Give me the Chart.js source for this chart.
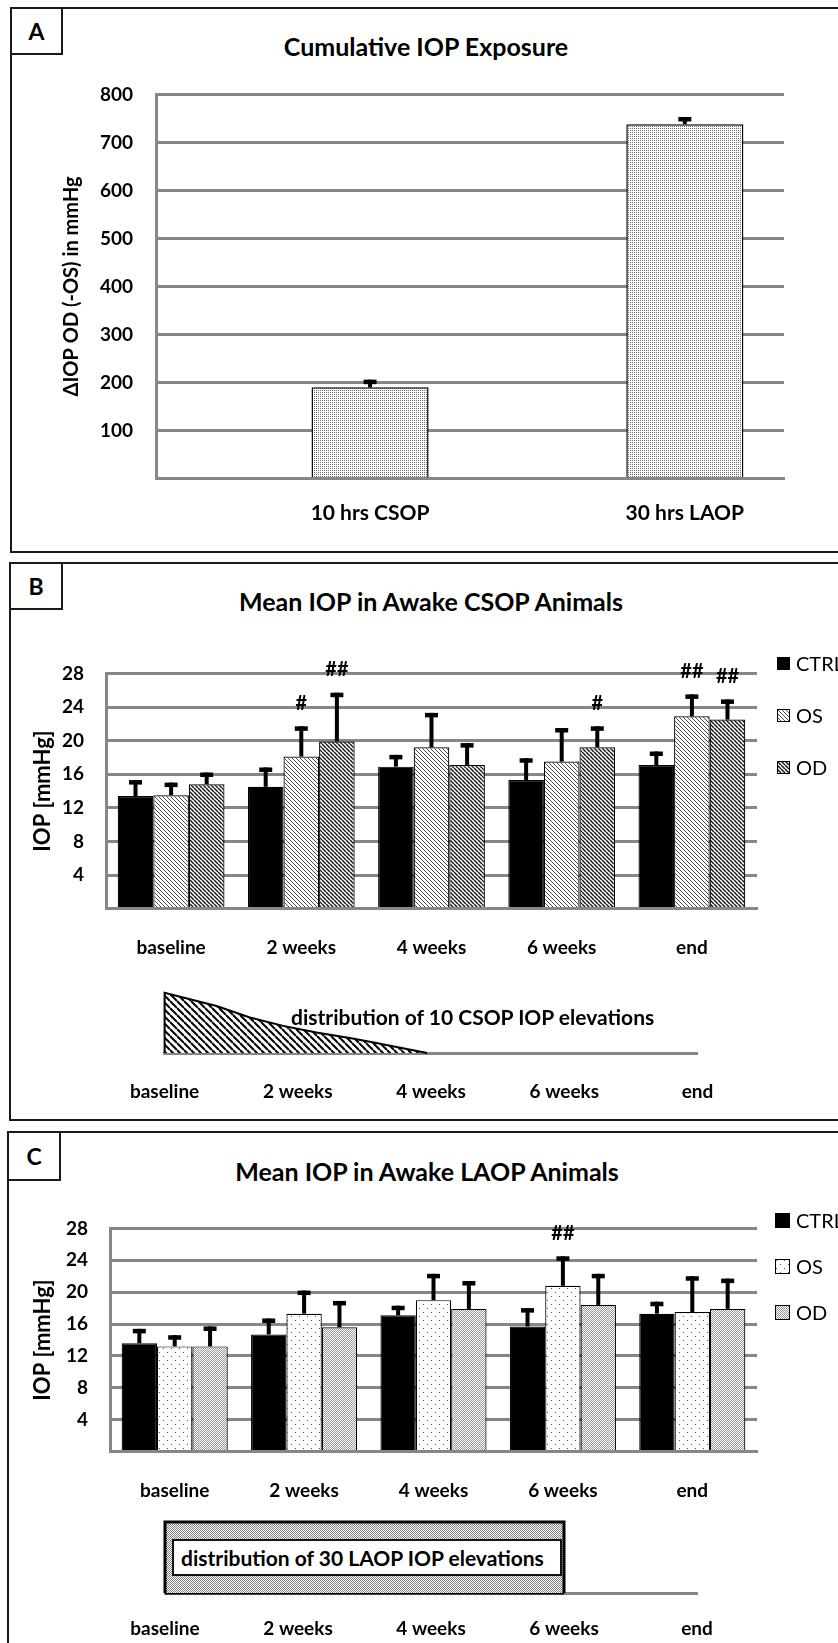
<!DOCTYPE html>
<html>
<head>
<meta charset="utf-8">
<title>IOP exposure and mean IOP</title>
<script src="https://cdn.jsdelivr.net/npm/chart.js@4.4.1/dist/chart.umd.min.js"></script>
<style>
	html, body { margin: 0; padding: 0; background: #fff; }
	body { position: relative; width: 838px; height: 1643px; overflow: hidden; font-family: Lato, 'Noto Sans', sans-serif; color: #000; }
	.panel { position: absolute; box-sizing: border-box; border: 2px solid #1a1a1a; width: 900px; }
	.tag { position: absolute; box-sizing: border-box; border: 2px solid #1a1a1a; background: #fff;
		font-weight: bold; font-size: 23px; display: flex; align-items: center; justify-content: center; }
	.title { position: absolute; transform: translate(-50%, -50%); white-space: nowrap; font-weight: bold; font-size: 25px; }
	.note { position: absolute; transform: translateY(-50%); white-space: nowrap; font-weight: bold; font-size: 21px; }
	.textbox { position: absolute; box-sizing: border-box; border: 2px solid #111; background: #fff; z-index: 2;
		font-weight: bold; font-size: 21px; display: flex; align-items: center; padding-left: 7px; white-space: nowrap; }
	canvas.chart { position: absolute; }
	.legend { position: absolute; font-size: 20px; }
	.legend .item { display: flex; align-items: center; }
	.legend canvas { margin-right: 6px; }
</style>
</head>
<body>

<div class="panel" style="left:10px; top:7px; height:546px;"></div>
<div class="tag" style="left:10px; top:7px; width:53px; height:48px;">A</div>
<div class="title" style="left:426px; top:46px;">Cumulative IOP Exposure</div>
<canvas id="chartA" class="chart" width="800" height="470" style="left:20px; top:60px;"></canvas>

<div class="panel" style="left:9px; top:562px; height:559px;"></div>
<div class="tag" style="left:9px; top:562px; width:54px; height:48px;">B</div>
<div class="title" style="left:431px; top:601px;">Mean IOP in Awake CSOP Animals</div>
<canvas id="chartB" class="chart" width="800" height="330" style="left:10px; top:640px;"></canvas>
<div id="legendB" class="legend" style="left:777px; top:637px;"></div>
<canvas id="timelineB" class="chart" width="700" height="125" style="left:100px; top:980px;"></canvas>
<div class="note" style="left:291px; top:1016px;">distribution of 10 CSOP IOP elevations</div>

<div class="panel" style="left:7px; top:1131px; height:600px;"></div>
<div class="tag" style="left:7px; top:1131px; width:54px; height:50px;">C</div>
<div class="title" style="left:427px; top:1171px;">Mean IOP in Awake LAOP Animals</div>
<canvas id="chartC" class="chart" width="800" height="320" style="left:10px; top:1195px;"></canvas>
<div id="legendC" class="legend" style="left:775px; top:1197px;"></div>
<canvas id="timelineC" class="chart" width="700" height="133" style="left:100px; top:1510px;"></canvas>
<div class="textbox" style="left:172px; top:1539px; width:390px; height:37px;">distribution of 30 LAOP IOP elevations</div>

<script>
	'use strict';

	// Panel A: cumulative exposure.
	const exposureGroups = ['10 hrs CSOP', '30 hrs LAOP'];
	const exposureMean = [190, 738];
	const exposureErr = [16, 15];

	// Panels B and C: mean IOP per time point.
	const timepoints = ['baseline', '2 weeks', '4 weeks', '6 weeks', 'end'];
	const seriesNames = ['CTRL', 'OS', 'OD'];

	const csopCtrl = [13.4, 14.5, 16.9, 15.3, 17.1];
	const csopOs = [13.5, 18.1, 19.2, 17.5, 22.9];
	const csopOd = [14.8, 19.9, 17.1, 19.2, 22.5];
	const csopCtrlErr = [1.9, 2.3, 1.4, 2.6, 1.6];
	const csopOsErr = [1.5, 3.6, 4.1, 4.0, 2.6];
	const csopOdErr = [1.4, 5.8, 2.6, 2.5, 2.4];
	const csopOsMarks = ['', '#', '', '', '##'];
	const csopOdMarks = ['', '##', '', '#', '##'];

	const laopCtrl = [13.6, 14.7, 17.1, 15.7, 17.3];
	const laopOs = [13.2, 17.3, 19.0, 20.8, 17.5];
	const laopOd = [13.2, 15.6, 17.9, 18.4, 17.9];
	const laopCtrlErr = [1.8, 2.0, 1.2, 2.3, 1.5];
	const laopOsErr = [1.4, 2.9, 3.3, 3.7, 4.5];
	const laopOdErr = [2.5, 3.3, 3.5, 3.9, 3.8];
	const laopOsMarks = ['', '', '', '##', ''];

	// Distribution of the elevations over the time points (x = time point index).
	const csopDistX = [0, 0, 0.39, 0.64, 0.89, 1.14, 1.39, 1.57, 1.97];
	const csopDistY = [0, 10, 7.8, 5.9, 4.5, 3.4, 2.5, 1.75, 0];
	const laopDistX = [0, 0, 3, 3];
	const laopDistY = [0, 10, 10, 0];

	const gridGray = '#878787';
	const tickFont = { size: 19, weight: 'bold' };

	Chart.defaults.font.family = 'Lato, "Noto Sans", sans-serif';
	Chart.defaults.color = '#000';
	Chart.defaults.devicePixelRatio = 1;

	/**
	 * Build a repeating fill pattern from a small tile.
	 */
	function makePattern(size, draw) {
		const tile = document.createElement('canvas');
		tile.width = size;
		tile.height = size;
		const g = tile.getContext('2d');
		g.fillStyle = '#fff';
		g.fillRect(0, 0, size, size);
		draw(g, size);
		return g.createPattern(tile, 'repeat');
	}

	function stripes(size, width, color) {
		return makePattern(size, function(g, s) {
			g.strokeStyle = color;
			g.lineWidth = width;
			for (let k = -1; k <= 1; k++) {
				g.beginPath();
				g.moveTo(0, k * s);
				g.lineTo(s, s + k * s);
				g.stroke();
			}
		});
	}

	function dots(size, color, points) {
		return makePattern(size, function(g) {
			g.fillStyle = color;
			points.forEach(function(p) { g.fillRect(p[0], p[1], 1, 1); });
		});
	}

	const stippleA = dots(2, '#6e6e6e', [[0, 0]]);
	const stripeLight = stripes(4, 0.9, '#3a3a3a');
	const stripeDark = stripes(4, 1.5, '#1a1a1a');
	const hatch = stripes(7, 2, '#000');
	const dotsSparse = dots(8, '#555', [[1, 1], [5, 5]]);
	const dotsDense = dots(2, '#999', [[0, 0], [1, 1]]);
	const stippleBox = dots(2, '#808080', [[0, 0], [1, 1]]);

	/**
	 * Error bars (upper half) and significance marks.
	 */
	const errorBars = {
		id: 'errorBars',
		afterDatasetsDraw(chart) {
			const ctx = chart.ctx;
			const yScale = chart.scales.y;
			chart.data.datasets.forEach(function(ds, i) {
				if (!ds.errors) return;
				const meta = chart.getDatasetMeta(i);
				meta.data.forEach(function(bar, j) {
					const value = meta.controller.getParsed(j).y;
					const top = yScale.getPixelForValue(value + ds.errors[j]);
					ctx.save();
					ctx.fillStyle = '#000';
					ctx.fillRect(bar.x - 2, top, 4, bar.y - top);
					ctx.fillRect(bar.x - 6.5, top, 13, 4.5);
					if (ds.marks && ds.marks[j]) {
						ctx.font = 'bold 20px Lato, "Noto Sans", sans-serif';
						ctx.textAlign = 'center';
						ctx.textBaseline = 'middle';
						ctx.fillText(ds.marks[j], bar.x, top - 23);
					}
					ctx.restore();
				});
			});
		}
	};

	// Cumulative IOP exposure.
	new Chart(document.getElementById('chartA'), {
		type: 'bar',
		data: {
			datasets: [{
				label: 'Cumulative IOP',
				data: exposureGroups.map(function(g, i) { return { x: i + 1, y: exposureMean[i] }; }),
				errors: exposureErr,
				backgroundColor: stippleA,
				borderColor: '#000',
				borderWidth: 1.5,
				categoryPercentage: 1,
				barPercentage: 0.372
			}]
		},
		options: {
			responsive: false,
			animation: false,
			layout: { padding: { top: 27, right: 36 } },
			plugins: { legend: { display: false }, tooltip: { enabled: false } },
			scales: {
				x: {
					type: 'linear',
					offset: false,
					min: 0.32,
					max: 2.315,
					grid: { display: false },
					border: { color: gridGray, width: 3 },
					afterBuildTicks: function(scale) {
						scale.ticks = exposureGroups.map(function(g, i) { return { value: i + 1 }; });
					},
					ticks: {
						callback: function(v) { return exposureGroups[v - 1]; },
						font: { size: 21, weight: 'bold' },
						padding: 14,
						maxRotation: 0
					},
					afterFit: function(scale) { scale.height = 51.4; }
				},
				y: {
					min: 0,
					max: 800,
					ticks: {
						stepSize: 100,
						callback: function(v) { return v === 0 ? '' : v; },
						font: tickFont,
						padding: 23
					},
					grid: { color: gridGray, lineWidth: 3, drawTicks: false },
					border: { color: gridGray, width: 3 },
					title: {
						display: true,
						text: '\u0394IOP OD (-OS) in mmHg',
						font: { size: 20, weight: 'bold' },
						padding: { top: 40, bottom: 0 }
					},
					afterFit: function(scale) { scale.width = 136; }
				}
			}
		},
		plugins: [errorBars]
	});

	/**
	 * Grouped IOP bar chart with error bars.
	 */
	function iopChart(id, series, box) {
		return new Chart(document.getElementById(id), {
			type: 'bar',
			data: {
				labels: timepoints,
				datasets: series.map(function(s, i) {
					return {
						label: seriesNames[i],
						data: s.values,
						errors: s.errors,
						marks: s.marks,
						backgroundColor: s.fill,
						borderColor: '#000',
						borderWidth: 1.2,
						categoryPercentage: 0.82,
						barPercentage: 1
					};
				})
			},
			options: {
				responsive: false,
				animation: false,
				layout: { padding: { top: box.top, right: box.right } },
				plugins: { legend: { display: false }, tooltip: { enabled: false } },
				scales: {
					x: {
						grid: { display: false },
						border: { color: gridGray, width: 3 },
						ticks: { font: tickFont, padding: 20, maxRotation: 0 },
						afterFit: function(scale) { scale.height = box.bottom; }
					},
					y: {
						min: 0,
						max: 28,
						ticks: {
							stepSize: 4,
							callback: function(v) { return v === 0 ? '' : v; },
							font: tickFont,
							padding: 22
						},
						grid: { color: gridGray, lineWidth: 3, drawTicks: false },
						border: { color: gridGray, width: 3 },
						title: {
							display: true,
							text: 'IOP [mmHg]',
							font: { size: 22, weight: 'bold' },
							padding: { top: 20, bottom: 0 }
						},
						afterFit: function(scale) { scale.width = box.left; }
					}
				}
			},
			plugins: [errorBars]
		});
	}

	/**
	 * Legend next to the chart, built from its datasets.
	 */
	function buildLegend(id, chart, rowHeight, swatch) {
		const holder = document.getElementById(id);
		chart.data.datasets.forEach(function(ds) {
			const item = document.createElement('div');
			item.className = 'item';
			item.style.height = rowHeight + 'px';
			const c = document.createElement('canvas');
			c.width = swatch;
			c.height = swatch;
			const g = c.getContext('2d');
			g.fillStyle = ds.backgroundColor;
			g.fillRect(0, 0, swatch, swatch);
			g.strokeStyle = '#000';
			g.lineWidth = 1;
			g.strokeRect(0.5, 0.5, swatch - 1, swatch - 1);
			const t = document.createElement('span');
			t.textContent = ds.label;
			item.appendChild(c);
			item.appendChild(t);
			holder.appendChild(item);
		});
	}

	/**
	 * Time line showing when the IOP elevations took place.
	 * With closeBase the shape also gets a black bottom edge.
	 */
	function timeline(id, xs, ys, fill, lineWidth, closeBase, box) {
		const datasets = [{
			data: xs.map(function(x, i) { return { x: x, y: ys[i] }; }),
			fill: 'origin',
			backgroundColor: fill,
			borderColor: '#000',
			borderWidth: lineWidth,
			pointRadius: 0,
			tension: 0,
			clip: false
		}];
		if (closeBase) {
			datasets.push({
				data: [{ x: Math.min.apply(null, xs), y: 0 }, { x: Math.max.apply(null, xs), y: 0 }],
				fill: false,
				borderColor: '#000',
				borderWidth: lineWidth,
				pointRadius: 0,
				clip: false
			});
		}
		return new Chart(document.getElementById(id), {
			type: 'line',
			data: { datasets: datasets },
			options: {
				responsive: false,
				animation: false,
				layout: { padding: { left: box.left, right: box.right, top: box.top } },
				plugins: { legend: { display: false }, tooltip: { enabled: false } },
				scales: {
					x: {
						type: 'linear',
						min: 0,
						max: timepoints.length - 1,
						grid: { display: false },
						border: { color: gridGray, width: 3 },
						ticks: {
							stepSize: 1,
							autoSkip: false,
							maxRotation: 0,
							callback: function(v) { return timepoints[v]; },
							font: tickFont,
							padding: box.labelPad
						},
						afterFit: function(scale) { scale.height = box.bottom; }
					},
					y: { display: false, min: 0, max: 10 }
				}
			}
		});
	}

	const chartB = iopChart('chartB', [
		{ values: csopCtrl, errors: csopCtrlErr, fill: '#000' },
		{ values: csopOs, errors: csopOsErr, marks: csopOsMarks, fill: stripeLight },
		{ values: csopOd, errors: csopOdErr, marks: csopOdMarks, fill: stripeDark }
	], { left: 96, right: 53, top: 19.6, bottom: 61.4 });
	buildLegend('legendB', chartB, 52, 13);

	timeline('timelineB', csopDistX, csopDistY, hatch, 2, false,
		{ left: 64.6, right: 102.5, top: 12.7, bottom: 52, labelPad: 19 });

	const chartC = iopChart('chartC', [
		{ values: laopCtrl, errors: laopCtrlErr, fill: '#000' },
		{ values: laopOs, errors: laopOsErr, marks: laopOsMarks, fill: dotsSparse },
		{ values: laopOd, errors: laopOdErr, fill: dotsDense }
	], { left: 100, right: 53, top: 27.2, bottom: 63.4 });
	buildLegend('legendC', chartC, 46, 15);

	timeline('timelineC', laopDistX, laopDistY, stippleBox, 3, true,
		{ left: 65, right: 103, top: 12, bottom: 50, labelPad: 16 });
</script>
</body>
</html>
